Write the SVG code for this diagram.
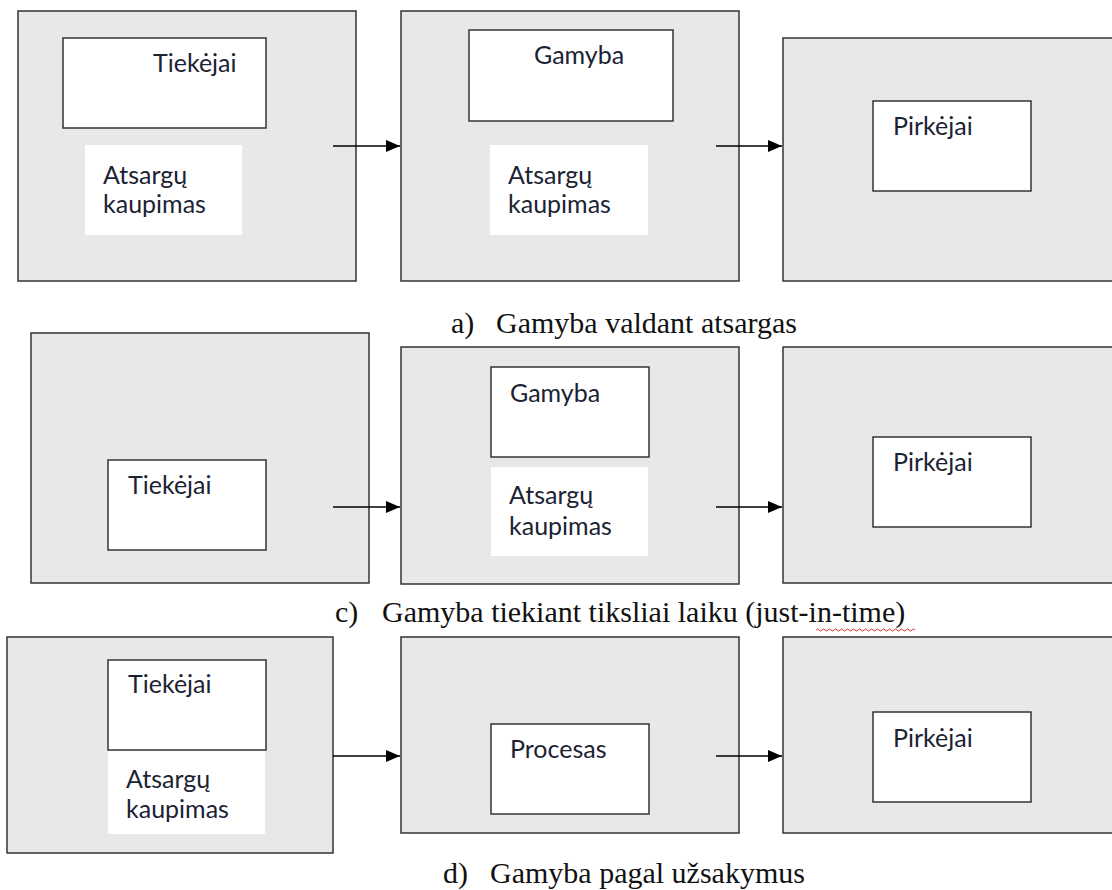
<svg xmlns="http://www.w3.org/2000/svg" width="1112" height="890" viewBox="0 0 1112 890">
<style>
.outer{fill:#e8e8e8;stroke:#333;stroke-width:1.5}
.inner{fill:#fff;stroke:#333;stroke-width:1.5}
.plain{fill:#fff;stroke:none}
.lbl{font-family:Lato,"Open Sans","Liberation Sans",sans-serif;font-size:25px;fill:#1b2333}
.cap{font-family:"Liberation Serif","DejaVu Serif",serif;font-size:30px;fill:#111}
.conn line{stroke:#000;stroke-width:1.5}
</style>
<defs>
<marker id="ah" markerWidth="14" markerHeight="12" refX="14" refY="6" orient="auto" markerUnits="userSpaceOnUse" viewBox="0 0 14 12">
<path d="M0,0 L14,6 L0,12 Z" fill="#000"/>
</marker>
</defs>
<rect width="1112" height="890" fill="#fff"/>

<!-- Row a -->
<g id="a-tiekejai-block">
<rect class="outer" x="18" y="11" width="338" height="270"/>
<rect class="inner" x="63" y="38" width="203" height="90"/>
<text class="lbl" x="153" y="72">Tiekėjai</text>
<rect class="plain" x="85" y="145" width="157" height="90"/>
<text class="lbl" x="103" y="184">Atsargų</text>
<text class="lbl" x="103" y="213">kaupimas</text>
</g>
<g id="a-gamyba-block">
<rect class="outer" x="401" y="11" width="338" height="270"/>
<rect class="inner" x="469" y="30" width="204" height="91"/>
<text class="lbl" x="534" y="64">Gamyba</text>
<rect class="plain" x="490" y="145" width="158" height="90"/>
<text class="lbl" x="508" y="184">Atsargų</text>
<text class="lbl" x="508" y="213">kaupimas</text>
</g>
<g id="a-pirkejai-block">
<rect class="outer" x="783" y="38" width="335" height="243"/>
<rect class="inner" x="873" y="101" width="158" height="90"/>
<text class="lbl" x="893" y="135">Pirkėjai</text>
</g>
<text id="caption-a" class="cap"><tspan x="451" y="333">a)</tspan><tspan x="496" y="333">Gamyba valdant atsargas</tspan></text>

<!-- Row c -->
<g id="c-tiekejai-block">
<rect class="outer" x="31" y="333" width="338" height="250"/>
<rect class="inner" x="108" y="460" width="158" height="90"/>
<text class="lbl" x="128" y="494">Tiekėjai</text>
</g>
<g id="c-gamyba-block">
<rect class="outer" x="401" y="347" width="338" height="237"/>
<rect class="inner" x="491" y="367" width="158" height="90"/>
<text class="lbl" x="510" y="402">Gamyba</text>
<rect class="plain" x="491" y="467" width="157" height="89"/>
<text class="lbl" x="509" y="504">Atsargų</text>
<text class="lbl" x="509" y="535">kaupimas</text>
</g>
<g id="c-pirkejai-block">
<rect class="outer" x="783" y="347" width="335" height="236"/>
<rect class="inner" x="873" y="437" width="158" height="90"/>
<text class="lbl" x="893" y="471">Pirkėjai</text>
</g>
<text id="caption-c" class="cap"><tspan x="335" y="622">c)</tspan><tspan x="382" y="622">Gamyba tiekiant tiksliai laiku (just-in-time)</tspan></text>
<path d="M816,630 q1.5,-2 3,0 t3,0 t3,0 t3,0 t3,0 t3,0 t3,0 t3,0 t3,0 t3,0 t3,0 t3,0 t3,0 t3,0 t3,0 t3,0 t3,0 t3,0 t3,0 t3,0 t3,0 t3,0 t3,0 t3,0 t3,0 t3,0 t3,0 t3,0 t3,0 t3,0 t3,0 t3,0 t3,0" fill="none" stroke="#e03030" stroke-width="1"/>

<!-- Row d -->
<g id="d-tiekejai-block">
<rect class="outer" x="7" y="637" width="326" height="216"/>
<rect class="inner" x="108" y="660" width="158" height="90"/>
<text class="lbl" x="128" y="693">Tiekėjai</text>
<rect class="plain" x="108" y="751" width="157" height="83"/>
<text class="lbl" x="126" y="788">Atsargų</text>
<text class="lbl" x="126" y="818">kaupimas</text>
</g>
<g id="d-procesas-block">
<rect class="outer" x="401" y="637" width="338" height="196"/>
<rect class="inner" x="491" y="724" width="158" height="90"/>
<text class="lbl" x="510" y="758">Procesas</text>
</g>
<g id="d-pirkejai-block">
<rect class="outer" x="783" y="637" width="335" height="196"/>
<rect class="inner" x="873" y="712" width="158" height="90"/>
<text class="lbl" x="893" y="747">Pirkėjai</text>
</g>
<text id="caption-d" class="cap"><tspan x="443" y="883">d)</tspan><tspan x="490" y="883">Gamyba pagal užsakymus</tspan></text>

<g id="connectors" class="conn">
<line x1="333" y1="146" x2="400" y2="146" marker-end="url(#ah)"/>
<line x1="716" y1="146" x2="782" y2="146" marker-end="url(#ah)"/>
<line x1="333" y1="507" x2="400" y2="507" marker-end="url(#ah)"/>
<line x1="716" y1="507" x2="782" y2="507" marker-end="url(#ah)"/>
<line x1="333" y1="756" x2="400" y2="756" marker-end="url(#ah)"/>
<line x1="716" y1="756" x2="782" y2="756" marker-end="url(#ah)"/>
</g>
</svg>
